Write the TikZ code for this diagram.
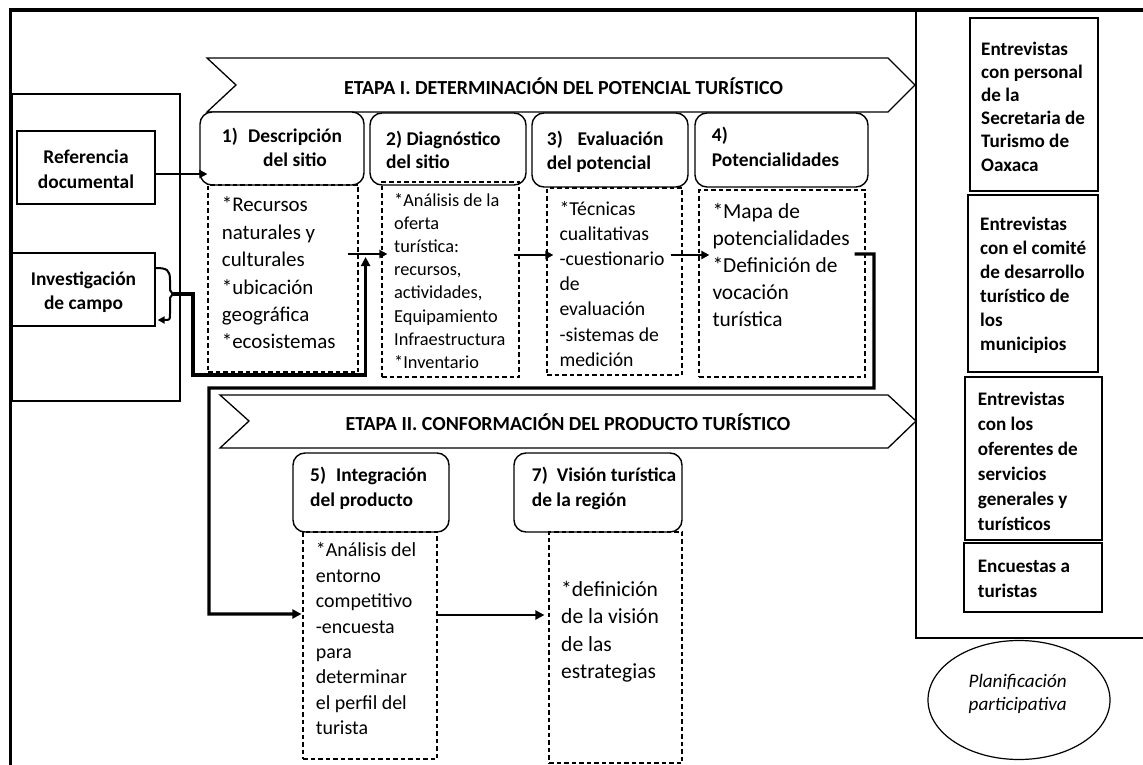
\documentclass[tikz,border=0pt]{standalone}
\usepackage{fontspec}
\setmainfont{Carlito}
\usetikzlibrary{arrows.meta,calc,fit,shapes.geometric}
\newcommand{\fs}[2]{\fontsize{#1}{#2}\selectfont}
\newcommand{\fl}{\rule{0pt}{1em}}
\begin{document}
\begin{tikzpicture}[x=1bp,y=-1bp,
  frame/.style={line width=3.6bp},
  tbox/.style={draw, line width=1.3bp, inner sep=0},
  hbox/.style={draw, line width=1.4bp, rounded corners=12bp, inner sep=0},
  dbox/.style={draw, line width=1.2bp, dash pattern=on 4.5bp off 3bp, inner sep=0},
  txt/.style={inner sep=0, align=left, anchor=north west},
  ctxt/.style={inner sep=0, align=center, anchor=north},
  hfont/.style={font=\fs{19.5}{24.5}\bfseries},
  rfont/.style={font=\fs{19.2}{24}\bfseries},
  arr/.style={line width=2bp, -{Triangle[length=8bp,width=8bp]}},
  thk/.style={line width=3.4bp, line join=miter},
  tarr/.style={thk, -{Triangle[length=9bp,width=9bp]}},
  banner/.style={draw, line width=1.3bp},
]
\useasboundingbox (0,0) rectangle (1143,765);
% outer frame
\draw[frame] (10.5,780) -- (10.5,10) -- (1160,10);
% right column
\node[tbox, line width=1.5bp, fit={(916,10) (1170,638)}] (rcol) {};
\node[tbox, fit={(970,18) (1098,191)}] (r1) {};
\node[tbox, fit={(968,195) (1098,372)}] (r2) {};
\node[tbox, fit={(965,377) (1102,540)}] (r3) {};
\node[tbox, fit={(964,543) (1102,612)}] (r4) {};
\node[txt, rfont, font=\fs{19.2}{23.2}\bfseries] (r1t) at (981,36.2) {\fl Entrevistas\\con personal\\de la\\Secretaria de\\Turismo de\\Oaxaca};
\node[txt, rfont] (r2t) at (980,211.2) {\fl Entrevistas\\con el comité\\de desarrollo\\turístico de\\los\\municipios};
\node[txt, rfont, font=\fs{19.2}{25}\bfseries] (r3t) at (977.7,386.2) {\fl Entrevistas\\con los\\oferentes de\\servicios\\generales y\\turísticos};
\node[txt, rfont, font=\fs{19.2}{25}\bfseries] (r4t) at (977.7,552.9) {\fl Encuestas a\\turistas};
% ellipse
\node[draw, ellipse, line width=1.2bp, minimum width=182bp, minimum height=119bp, inner sep=0] (plan) at (1019,700) {};
\node[ctxt, font=\fs{19.2}{22.3}\itshape] (plant) at (1017.7,668.5) {\fl Planificación\\participativa};
% left column
\node[tbox, fit={(12,94) (180,401)}] (lbox) {};
\node[tbox, fill=white, fit={(17,131) (155,204)}] (ref) {};
\node[tbox, fill=white, fit={(12,253) (155,326)}] (inv) {};
\node[ctxt, hfont, font=\fs{19.5}{25}\bfseries] (reft) at (86,143.8) {\fl Referencia\\documental};
\node[ctxt, hfont, font=\fs{19.5}{24.3}\bfseries] (invt) at (83.5,265.5) {\fl Investigación\\de campo};
% banners
\draw[banner] (207,58) -- (888,58) -- (915,85) -- (888,112) -- (207,112) -- (236,85) -- cycle;
\node[anchor=base, inner sep=0, font=\fs{20}{24}\bfseries] (e1t) at (563.5,94.3) {ETAPA I. DETERMINACIÓN DEL POTENCIAL TURÍSTICO};
\draw[banner] (220,395) -- (888,395) -- (916,421) -- (888,448) -- (220,448) -- (249,421) -- cycle;
\node[anchor=base, inner sep=0, font=\fs{20}{24}\bfseries] (e2t) at (568,430) {ETAPA II. CONFORMACIÓN DEL PRODUCTO TURÍSTICO};
% headers
\node[hbox, fill=white, fit={(200,112) (364,185)}] (b1h) {};
\node[hbox, fill=white, fit={(370,113) (526,185)}] (b2h) {};
\node[hbox, fill=white, fit={(532,113) (688,187)}] (b3h) {};
\node[hbox, fill=white, fit={(695,113) (868,187)}] (b4h) {};
\node[hbox, fill=white, fit={(293,453) (449,532)}] (b5h) {};
\node[hbox, fill=white, fit={(514,453) (682,532)}] (b7h) {};
\node[txt, hfont] (b1ht) at (221.7,122.5) {\fl\makebox[26.3bp][l]{1)}Descripción\\\hspace*{41.3bp}del sitio};
\node[txt, hfont, font=\fs{19.5}{23.3}\bfseries] (b2ht) at (386,125.5) {\fl 2) Diagnóstico\\del sitio};
\node[txt, hfont, font=\fs{19.5}{24}\bfseries] (b3ht) at (546.7,125.5) {\fl\makebox[30.6bp][l]{3)}Evaluación\\del potencial};
\node[txt, hfont, font=\fs{19.5}{25}\bfseries] (b4ht) at (711.7,122.2) {\fl 4)\\Potencialidades};
\node[txt, hfont, font=\fs{19.5}{25}\bfseries] (b5ht) at (310,462.2) {\fl\makebox[26bp][l]{5)}Integración\\del producto};
\node[txt, hfont, font=\fs{19.5}{25}\bfseries] (b7ht) at (531.7,462.2) {\fl\makebox[25bp][l]{7)}Visión turística\\de la región};
% dashed boxes
\node[dbox, fit={(208,185) (358,372)}] (b1) {};
\node[dbox, fit={(382,182) (519,377)}] (b2) {};
\node[dbox, fit={(547,188) (682,375)}] (b3) {};
\node[dbox, fit={(699,190) (865,377)}] (b4) {};
\node[dbox, fit={(303,532) (437,759)}] (b5) {};
\node[dbox, fit={(549,532) (682,763)}] (b7) {};
\node[txt, font=\fs{21}{27.5}] (b1t) at (221.7,190.7) {\fl *Recursos\\naturales y\\culturales\\*ubicación\\geográfica\\*ecosistemas};
\node[txt, font=\fs{18.4}{23.3}] (b2t) at (394,187.6) {\fl *Análisis de la\\oferta\\turística:\\recursos,\\actividades,\\Equipamiento\\Infraestructura\\*Inventario};
\node[txt, font=\fs{19.8}{25.3}] (b3t) at (559.3,195.2) {\fl *Técnicas\\cualitativas\\-cuestionario\\de\\evaluación\\-sistemas de\\medición};
\node[txt, font=\fs{21.5}{27.2}] (b4t) at (712.3,196.5) {\fl *Mapa de\\potencialidades\\*Definición de\\vocación\\turística};
\node[txt, font=\fs{20}{25.5}] (b5t) at (315.7,536.7) {\fl *Análisis del\\entorno\\competitivo\\-encuesta\\para\\determinar\\el perfil del\\turista};
\node[txt, font=\fs{21.6}{27.2}] (b7t) at (561,575.1) {\fl *definición\\de la visión\\de las\\estrategias};
% connectors
\coordinate (refout) at ($(ref.east)+(0,6.5)$);
\draw[arr] (refout) -- (refout -| b1.west);
\coordinate (invtop) at ($(inv.east)+(0,-21.5)$);
\coordinate (brace) at ($(inv.east)+(17,4.5)$);
\coordinate (invin) at ($(inv.east)+(2,30.5)$);
\draw[line width=2bp] (invtop) .. controls (167,268) and (170,270) .. (170,280) -- (170,290) -- (brace);
\draw[line width=2bp, -{Triangle[length=7bp,width=7bp]}] (brace) -- (170,298) -- (170,314) .. controls (170,320) .. (164,320) -- (invin);
\coordinate (a12s) at ($(b1.east)+(-11,-24.5)$);
\coordinate (a12e) at ($(b2.west |- a12s)+(6,0)$);
\draw[arr] (a12s) -- (a12e);
\coordinate (up12) at ($(b1.east |- a12s)+(7,3)$);
\draw[tarr] (brace) -- (193,294) -- (193,375) -| (up12);
\coordinate (a23s) at ($(b2.east)+(-6,-24.5)$);
\draw[arr] (a23s) -- ($(b3.west |- a23s)+(7,0)$);
\coordinate (a34s) at ($(b3.east)+(-12,-26.5)$);
\draw[arr] (a34s) -- ($(b4.west |- a34s)+(11,0)$);
\coordinate (b4out) at ($(b4.east)+(-11,-29.5)$);
\coordinate (b5in) at ($(b5.west)+(-1,-31.5)$);
\draw[tarr] (b4out) -- (874,254) -- (874,388) -- (209,388) |- (b5in);
\coordinate (a57s) at ($(b5.east)+(0,-30.5)$);
\draw[line width=2.8bp, -{Triangle[length=9bp,width=9bp]}] (a57s) -- ($(b7.west |- a57s)+(-4,0)$);
\end{tikzpicture}
\end{document}
